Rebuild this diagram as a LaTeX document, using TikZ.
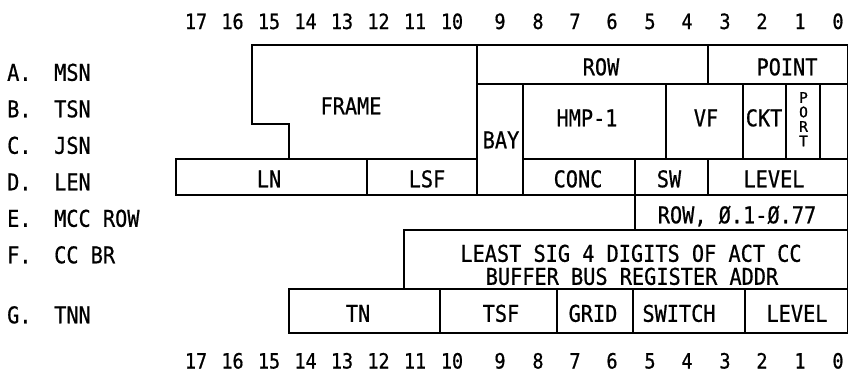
\documentclass[tikz,border=0pt]{standalone}
\usepackage{fontspec}
\newfontfamily\typefont[FakeStretch=0.88,FakeBold=0.7]{DejaVu Sans Mono}
\newfontfamily\portfont[FakeBold=1.2]{DejaVu Sans Mono}
\usetikzlibrary{calc}
\tikzset{
  wall/.style={line width=2.3pt,line join=miter},
  field/.style={font=\typefont\fontsize{23}{26}\selectfont,inner sep=0pt,
    text height=16.5pt,text depth=0pt},
  rowlab/.style={field,anchor=west},
  bitno/.style={font=\typefont\fontsize{21}{24}\selectfont,inner sep=0pt,
    text height=15pt,text depth=0pt},
  vlab/.style={font=\portfont\fontsize{14.5}{14.5}\selectfont,inner sep=0pt,
    text height=10.5pt,text depth=0pt}
}
\begin{document}
\begin{tikzpicture}[x=1pt,y=-1pt]
 \useasboundingbox (0,0) rectangle (848,373);
 % bit numbers, top and bottom
 \foreach \n/\x in {17/196,16/232.5,15/269,14/305.5,13/342,12/378.5,11/415,10/452,
   9/500,8/538,7/575,6/612,5/650,4/687,3/725,2/762,1/800,0/838} {
  \node[bitno] (top\n) at (\x,21.5) {\n};
  \node[bitno] (bot\n) at (\x,361) {\n};
 }
 % row names on the left
 \foreach \k/\nm/\y in {A/MSN/72.5,B/TSN/109,C/JSN/145.5,D/LEN/182,
   E/MCC ROW/218.5,F/CC BR/255,G/TNN/315} {
  \node[rowlab] (key\k) at (7,\y) {\k.};
  \node[rowlab] (name\k) at (54,\y) {\nm};
 }
 % rows A-C: frame, row, point and the small fields under them
 \draw[wall] (252,45) -- (477,45) -- (477,159) -- (289,159) -- (289,124)
   -- (252,124) -- cycle;
 \draw[wall] (477,45) rectangle (708,84) (708,45) rectangle (848,84);
 \draw[wall] (477,84) rectangle (523,195);
 \foreach \xa/\xb in {523/666,666/743,743/786,786/820,820/848}
  \draw[wall] (\xa,84) rectangle (\xb,159);
 % row D
 \foreach \xa/\xb in {176/367,367/477,523/635,635/708,708/848}
  \draw[wall] (\xa,159) rectangle (\xb,195);
 % rows E and F
 \draw[wall] (635,195) rectangle (848,230);
 \draw[wall] (404,230) rectangle (848,289);
 % row G
 \foreach \xa/\xb in {289/440,440/557,557/633,633/745,745/848}
  \draw[wall] (\xa,289) rectangle (\xb,333);
 % field names
 \node[field] (frame) at (351,106) {FRAME};
 \node[field] (row) at (601,67) {ROW};
 \node[field] (point) at (787,67) {POINT};
 \node[field] (bay) at (501,140) {BAY};
 \node[field] (hmp) at (587,118) {HMP-1};
 \node[field] (vf) at (706,118) {VF};
 \node[field] (ckt) at (764,118) {CKT};
 % port is written downwards, one letter under the other
 \foreach \ltr/\yy in {P/97.5,O/112,R/126.5,T/141}
  \node[vlab] (port\ltr) at (803.5,\yy) {\ltr};
 \node[field] (ln) at (269,179) {LN};
 \node[field] (lsf) at (427,179) {LSF};
 \node[field] (conc) at (578,179) {CONC};
 \node[field] (sw) at (669,179) {SW};
 \node[field] (levelD) at (774,179) {LEVEL};
 \node[field] (mccrow) at (737,215) {ROW, Ø.1-Ø.77};
 \node[field] (least) at (631,253.5) {LEAST SIG 4 DIGITS OF ACT CC};
 \node[field] (buffer) at (632,276.5) {BUFFER BUS REGISTER ADDR};
 \node[field] (tn) at (358,313.5) {TN};
 \node[field] (tsf) at (501,313.5) {TSF};
 \node[field] (grid) at (593,313.5) {GRID};
 \node[field] (switch) at (679,313.5) {SWITCH};
 \node[field] (levelG) at (797,313.5) {LEVEL};
\end{tikzpicture}
\end{document}
